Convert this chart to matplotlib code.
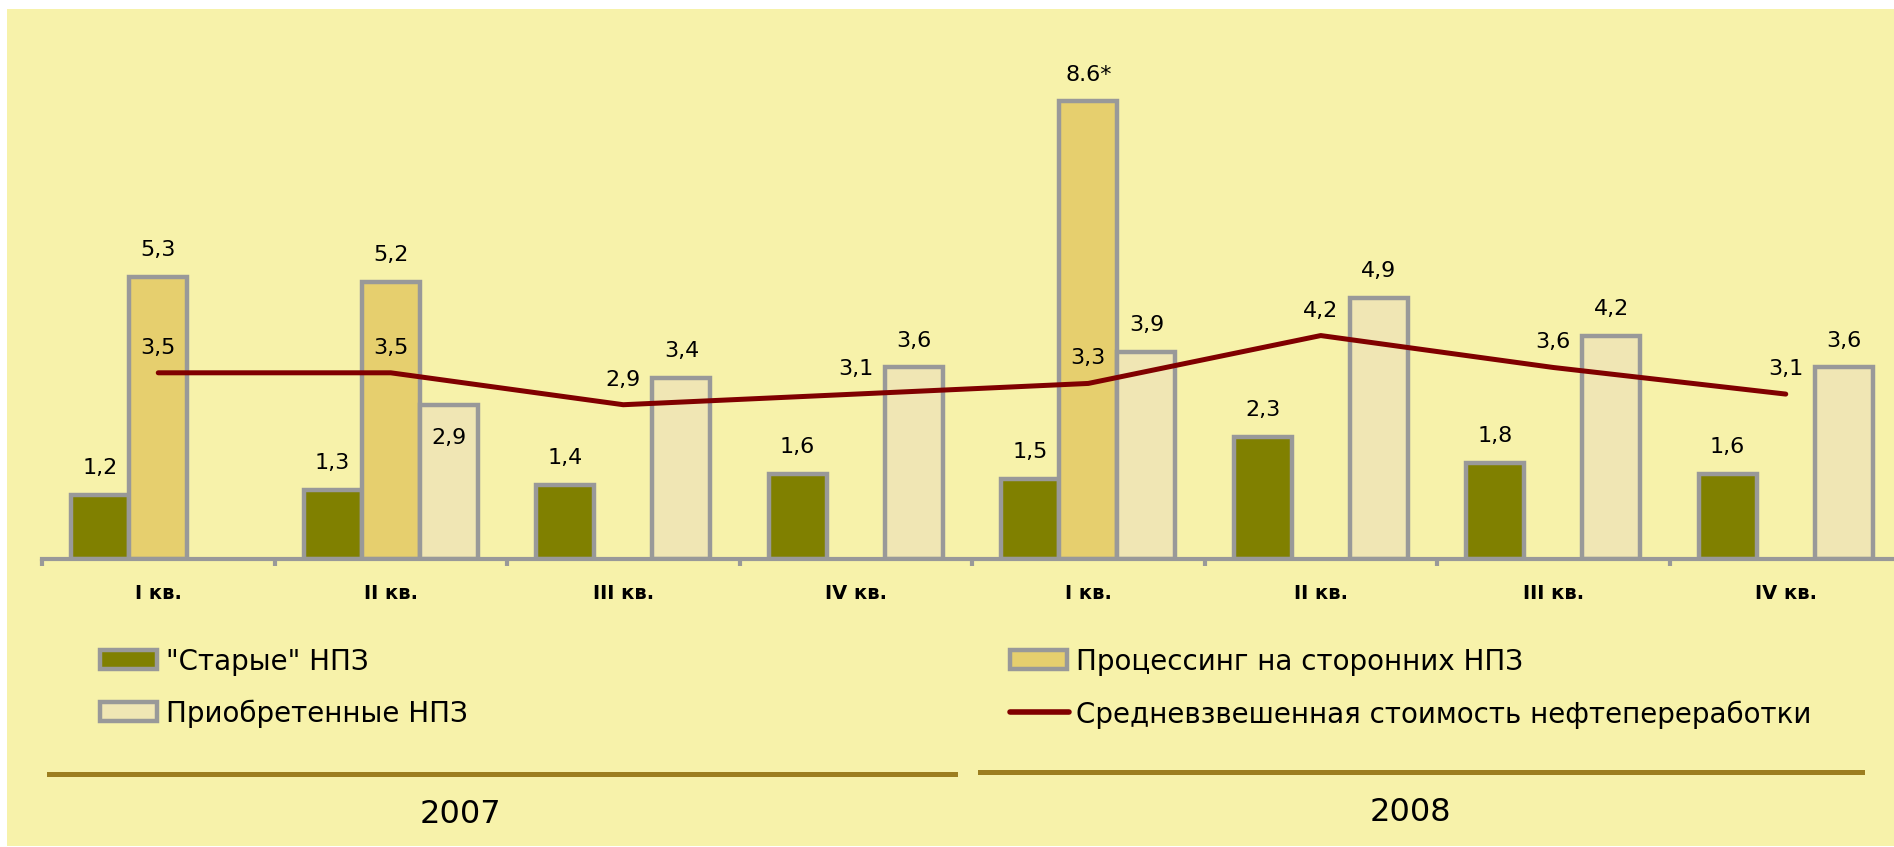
import matplotlib
matplotlib.use("Agg")
import matplotlib.pyplot as plt
from matplotlib.patches import Rectangle
from matplotlib.lines import Line2D
import numpy as np

W, H = 1894, 847

# --- data ---
quarters = ["I", "II", "III", "IV", "I", "II", "III", "IV"]
years = ["2007", "2008"]
old_npz = [1.2, 1.3, 1.4, 1.6, 1.5, 2.3, 1.8, 1.6]
processing = [5.3, 5.2, None, None, 8.6, None, None, None]
acquired = [None, 2.9, 3.4, 3.6, 3.9, 4.9, 4.2, 3.6]
avg_cost = [3.5, 3.5, 2.9, 3.1, 3.3, 4.2, 3.6, 3.1]
names = ['"Старые" НПЗ', "Приобретенные НПЗ",
         "Процессинг на сторонних НПЗ",
         "Средневзвешенная стоимость нефтепереработки"]

BG = "#F7F2AA"
OLIVE = "#808000"
GOLD = "#E6CF6E"
CREAM = "#F0E6B4"
EDGE = "#999999"
LINE = "#800000"
RULE = "#9C7E1F"

plt.rcParams['font.family'] = ['DejaVu Sans']


def fmt(v):
    return f"{v:.1f}".replace(".", ",")


def box(x, y, w, h):
    # image pixel box (top-left origin) -> figure fraction
    return (x / W, (H - y - h) / H, w / W, h / H)


fig = plt.figure(figsize=(W / 100, H / 100), dpi=100)
fig.patch.set_facecolor("white")
fig.add_artist(Rectangle(box(7, 9, W - 7, H - 10)[:2], (W - 7) / W, (H - 10) / H,
                         transform=fig.transFigure, facecolor=BG, edgecolor="none", zorder=-1))

ax = fig.add_axes(box(42, 9, 1860, 550))
ax.patch.set_alpha(0)
ax.set_xlim(-0.5, 7.5)
ax.set_ylim(0, 550 / 53.2)
for s in ["top", "left", "right"]:
    ax.spines[s].set_visible(False)
ax.spines["bottom"].set_color(EDGE)
ax.spines["bottom"].set_linewidth(3)
ax.set_xticks(np.arange(-0.5, 8, 1))
ax.set_xticklabels([])
ax.tick_params(axis="x", length=5, width=3, color=EDGE, direction="out")
ax.set_yticks([])

x = np.arange(len(quarters))
bw = 0.25
bar_kw = dict(edgecolor=EDGE, linewidth=3.2, zorder=2)


def draw(series, off, color, label_fix=None):
    idx = [i for i, v in enumerate(series) if v is not None]
    vals = [series[i] for i in idx]
    ax.bar(x[idx] + off, vals, bw, color=color, **bar_kw)
    for i, v in zip(idx, vals):
        txt, dy = fmt(v), 19.4
        if label_fix and i in label_fix:
            txt, dy = label_fix[i]
        ax.annotate(txt, (x[i] + off, v), xytext=(0, dy), textcoords="offset points",
                    ha="center", va="center", fontsize=16, zorder=5)


draw(old_npz, -bw, OLIVE)
draw(processing, 0, GOLD, {4: ("8.6*", 19.4)})
draw(acquired, bw, CREAM, {1: ("2,9", -24)})

ax.plot(x, avg_cost, color=LINE, lw=3.6, solid_capstyle="round", zorder=4)
for xi, v in zip(x, avg_cost):
    ax.annotate(fmt(v), (xi, v), xytext=(0, 18), textcoords="offset points",
                ha="center", va="center", fontsize=16, zorder=5)

for xi, q in zip(x, quarters):
    ax.annotate(q + " кв.", (xi, 0), xytext=(0, -24.5), textcoords="offset points",
                ha="center", va="center", fontsize=14, fontweight="bold",
                annotation_clip=False)

# legend
leg_fs = 20
patches = [(100, 650, OLIVE, names[0]), (100, 702, CREAM, names[1]),
           (1010, 650, GOLD, names[2])]
for px, py, c, name in patches:
    b = box(px, py, 57, 19)
    fig.add_artist(Rectangle(b[:2], b[2], b[3], transform=fig.transFigure,
                             facecolor=c, edgecolor=EDGE, linewidth=3.2))
    fig.text((px + 66) / W, 1 - (py + 12) / H, name, fontsize=leg_fs, va="center")
fig.add_artist(Line2D([1010 / W, 1069 / W], [1 - 712 / H] * 2, color=LINE, lw=4,
                      solid_capstyle="round", transform=fig.transFigure))
fig.text(1076 / W, 1 - 715 / H, names[3], fontsize=leg_fs, va="center")

# year rules and labels
fig.add_artist(Line2D([49 / W, 955 / W], [1 - 774 / H] * 2, color=RULE, lw=3.6,
                      transform=fig.transFigure))
fig.add_artist(Line2D([980 / W, 1862 / W], [1 - 772 / H] * 2, color=RULE, lw=3.6,
                      transform=fig.transFigure))
fig.text(460 / W, 1 - 814 / H, years[0], fontsize=23, ha="center", va="center")
fig.text(1410 / W, 1 - 812 / H, years[1], fontsize=23, ha="center", va="center")

fig.savefig("out.png", dpi=100, facecolor=fig.get_facecolor())
